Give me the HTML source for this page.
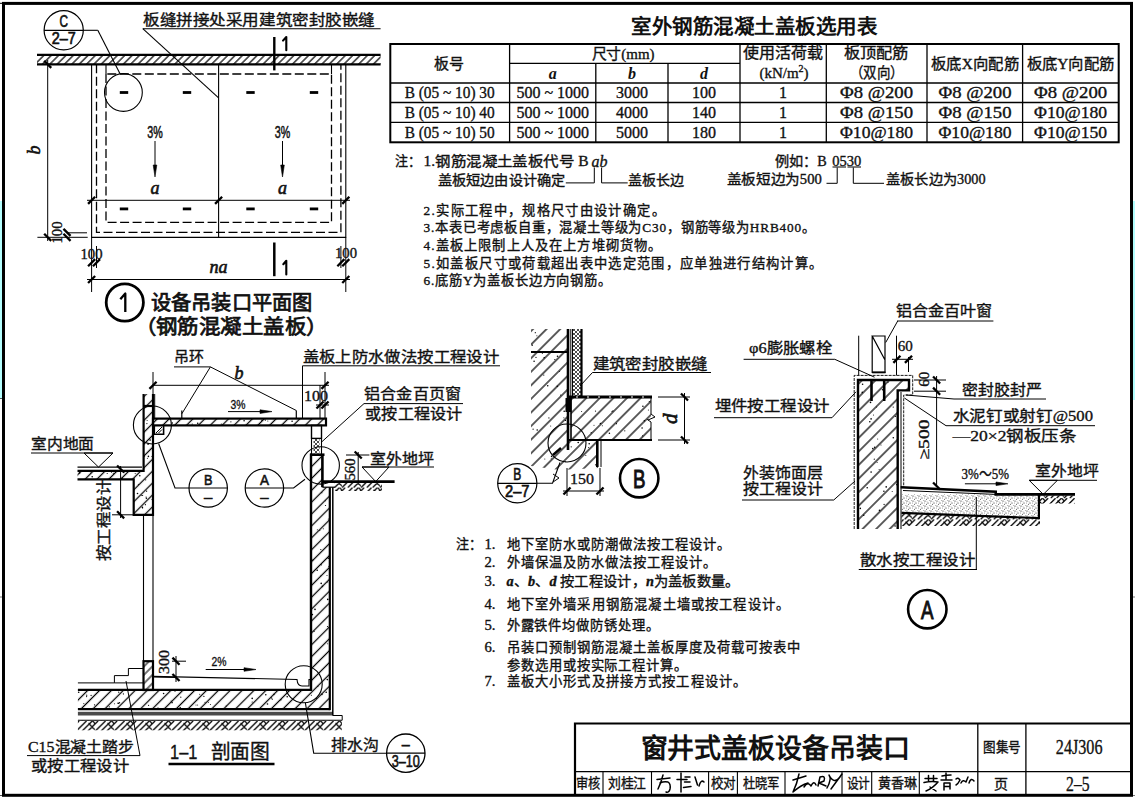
<!DOCTYPE html><html lang="zh-CN"><head><meta charset="utf-8"><title>窗井式盖板设备吊装口</title>
<style>html,body{margin:0;padding:0;background:#fff;width:1135px;height:801px;overflow:hidden}svg{display:block}</style></head><body>
<svg width="1135" height="801" viewBox="0 0 1135 801">
<defs>
<pattern id="h7" patternUnits="userSpaceOnUse" width="5.2" height="5.2" patternTransform="rotate(45)"><line x1="2.6" y1="0" x2="2.6" y2="5.2" stroke="#000" stroke-width="1.2"/></pattern>
<pattern id="h9" patternUnits="userSpaceOnUse" width="8.4" height="8.4" patternTransform="rotate(45)"><line x1="4.2" y1="0" x2="4.2" y2="8.4" stroke="#000" stroke-width="1.25"/></pattern>
<pattern id="h10" patternUnits="userSpaceOnUse" width="9.6" height="9.6" patternTransform="rotate(45)"><line x1="4.8" y1="0" x2="4.8" y2="9.6" stroke="#000" stroke-width="1.25"/></pattern>
<pattern id="h6" patternUnits="userSpaceOnUse" width="6" height="6" patternTransform="rotate(45)"><line x1="3" y1="0" x2="3" y2="6" stroke="#000" stroke-width="1.1"/></pattern>
<pattern id="soil" patternUnits="userSpaceOnUse" width="19" height="10.6"><path d="M-19 10.6 L-8.4 0 M-13.2 10.6 L-2.6 0 M-7.4 10.6 L3.2 0 M0 10.6 L10.6 0 M5.8 10.6 L16.4 0 M11.6 10.6 L22.2 0 M19 10.6 L29.6 0 M12.5 2.5 L19 9 M16.5 0 L19.5 3" stroke="#000" stroke-width="1.3" fill="none"/></pattern>
<pattern id="xh" patternUnits="userSpaceOnUse" width="4" height="4"><path d="M0 0 L4 4 M4 0 L0 4" stroke="#000" stroke-width="0.7"/></pattern>
<pattern id="dots" patternUnits="userSpaceOnUse" width="6" height="5"><circle cx="1" cy="1" r="0.6" fill="#111"/><circle cx="4" cy="3" r="0.55" fill="#111"/><circle cx="2.5" cy="4.2" r="0.5" fill="#333"/><circle cx="5.3" cy="0.6" r="0.45" fill="#333"/><circle cx="0.5" cy="3" r="0.4" fill="#333"/><circle cx="3" cy="1.8" r="0.35" fill="#333"/></pattern>
</defs>
<rect x="0" y="0" width="1135" height="801" fill="#fff"/>
<rect x="0" y="201" width="2" height="198" fill="#b3fdfd"/>
<rect x="1133" y="201" width="2" height="199" fill="#b3fdfd"/>
<line x1="0" y1="398.5" x2="2.5" y2="398.5" stroke="#333" stroke-width="0.8"/>
<line x1="0" y1="597" x2="2.5" y2="597" stroke="#555" stroke-width="0.8"/>
<line x1="1133" y1="597" x2="1135" y2="597" stroke="#555" stroke-width="0.8"/>
<rect x="3.5" y="3.4" width="1128" height="791.9" stroke="#000" stroke-width="3" fill="none"/>
<line x1="0" y1="3.4" x2="2" y2="3.4" stroke="#333" stroke-width="1.2"/>
<line x1="0" y1="795.5" x2="2" y2="795.5" stroke="#555" stroke-width="1.2"/>
<line x1="1133" y1="795.5" x2="1135" y2="795.5" stroke="#777" stroke-width="1"/>
<rect x="37" y="54.8" width="343.6" height="9.5" fill="url(#h7)"/>
<line x1="37" y1="54.8" x2="380.6" y2="54.8" stroke="#000" stroke-width="2.2"/>
<line x1="37" y1="64.3" x2="380.6" y2="64.3" stroke="#000" stroke-width="2.2"/>
<path d="M91.6 64.3 V237.4 H345.8 V64.3" stroke="#000" stroke-width="1.1" fill="none" />
<path d="M96.5 64.3 V232.3 H340.9 V64.3" stroke="#000" stroke-width="1.3" fill="none" stroke-dasharray="9 3.5"/>
<line x1="106" y1="64.3" x2="106" y2="74" stroke="#000" stroke-width="1.1"/>
<line x1="331.5" y1="64.3" x2="331.5" y2="74" stroke="#000" stroke-width="1.1"/>
<path d="M106 74 V222.4 H331.5 V74 Z" stroke="#000" stroke-width="1.3" fill="none" stroke-dasharray="9 3.5"/>
<line x1="218.6" y1="64.3" x2="218.6" y2="237.4" stroke="#000" stroke-width="1.1"/>
<rect x="119.8" y="91.1" width="8.4" height="2.8" fill="#000"/>
<rect x="182.8" y="91.1" width="8.4" height="2.8" fill="#000"/>
<rect x="246.3" y="91.1" width="8.4" height="2.8" fill="#000"/>
<rect x="309.8" y="91.1" width="8.4" height="2.8" fill="#000"/>
<rect x="119.8" y="207.5" width="8.4" height="2.8" fill="#000"/>
<rect x="182.8" y="207.5" width="8.4" height="2.8" fill="#000"/>
<rect x="246.3" y="207.5" width="8.4" height="2.8" fill="#000"/>
<rect x="309.8" y="207.5" width="8.4" height="2.8" fill="#000"/>
<text x="155" y="132.8" text-anchor="middle" dominant-baseline="central" style="font-family:'Liberation Sans',sans-serif;stroke:#111;stroke-width:0.5px;font-size:16px" fill="#111" textLength="15.5" lengthAdjust="spacingAndGlyphs" >3%</text>
<line x1="155" y1="141" x2="155" y2="170" stroke="#000" stroke-width="1"/>
<path d="M153.2 165 L155 177 L156.8 165 Z" stroke="#000" stroke-width="0.6" fill="#000" />
<text x="155" y="188" text-anchor="middle" dominant-baseline="central" style="font-family:'Liberation Serif',serif;stroke:#111;stroke-width:0.6px;font-size:18px;font-style:italic" fill="#111" >a</text>
<text x="282.5" y="132.8" text-anchor="middle" dominant-baseline="central" style="font-family:'Liberation Sans',sans-serif;stroke:#111;stroke-width:0.5px;font-size:16px" fill="#111" textLength="15.5" lengthAdjust="spacingAndGlyphs" >3%</text>
<line x1="282.5" y1="141" x2="282.5" y2="170" stroke="#000" stroke-width="1"/>
<path d="M280.7 165 L282.5 177 L284.3 165 Z" stroke="#000" stroke-width="0.6" fill="#000" />
<text x="282.5" y="188" text-anchor="middle" dominant-baseline="central" style="font-family:'Liberation Serif',serif;stroke:#111;stroke-width:0.6px;font-size:18px;font-style:italic" fill="#111" >a</text>
<line x1="87" y1="200.3" x2="350" y2="200.3" stroke="#000" stroke-width="1"/>
<line x1="88.0645" y1="203.83550000000002" x2="95.1355" y2="196.7645" stroke="#000" stroke-width="2.3"/>
<line x1="215.06449999999998" y1="203.83550000000002" x2="222.1355" y2="196.7645" stroke="#000" stroke-width="2.3"/>
<line x1="342.2645" y1="203.83550000000002" x2="349.3355" y2="196.7645" stroke="#000" stroke-width="2.3"/>
<line x1="47.7" y1="60" x2="47.7" y2="241" stroke="#000" stroke-width="1"/>
<line x1="44.164500000000004" y1="60.7645" x2="51.2355" y2="67.8355" stroke="#000" stroke-width="2.3"/>
<line x1="44.164500000000004" y1="233.7645" x2="51.2355" y2="240.83550000000002" stroke="#000" stroke-width="2.3"/>
<line x1="37.4" y1="237.3" x2="87.7" y2="237.3" stroke="#000" stroke-width="1"/>
<line x1="67" y1="232.8" x2="87" y2="232.8" stroke="#000" stroke-width="1"/>
<line x1="63.4645" y1="228.8645" x2="70.5355" y2="235.93550000000002" stroke="#000" stroke-width="2.3"/>
<line x1="63.4645" y1="233.7645" x2="70.5355" y2="240.83550000000002" stroke="#000" stroke-width="2.3"/>
<text x="34" y="150" text-anchor="middle" dominant-baseline="central" style="font-family:'Liberation Serif',serif;stroke:#111;stroke-width:0.6px;font-size:18px;font-style:italic" fill="#111" transform="rotate(-90 34 150)" >b</text>
<text x="57.2" y="232.5" text-anchor="middle" dominant-baseline="central" style="font-family:'Liberation Serif',serif;stroke:#111;stroke-width:0.35px;font-size:15px" fill="#111" textLength="22" lengthAdjust="spacingAndGlyphs" transform="rotate(-90 57.2 232.5)" >100</text>
<line x1="91.6" y1="237.4" x2="91.6" y2="292" stroke="#000" stroke-width="1"/>
<line x1="96.5" y1="246" x2="96.5" y2="268" stroke="#000" stroke-width="1"/>
<line x1="345.8" y1="237.4" x2="345.8" y2="292" stroke="#000" stroke-width="1"/>
<line x1="340.9" y1="246" x2="340.9" y2="268" stroke="#000" stroke-width="1"/>
<line x1="88.0645" y1="266.2355" x2="95.1355" y2="259.1645" stroke="#000" stroke-width="2.3"/>
<line x1="92.9645" y1="266.2355" x2="100.0355" y2="259.1645" stroke="#000" stroke-width="2.3"/>
<line x1="342.2645" y1="266.2355" x2="349.3355" y2="259.1645" stroke="#000" stroke-width="2.3"/>
<line x1="337.36449999999996" y1="266.2355" x2="344.4355" y2="259.1645" stroke="#000" stroke-width="2.3"/>
<text x="91.5" y="254" text-anchor="middle" dominant-baseline="central" style="font-family:'Liberation Serif',serif;stroke:#111;stroke-width:0.35px;font-size:14px" fill="#111" textLength="22" lengthAdjust="spacingAndGlyphs" >100</text>
<text x="346" y="253" text-anchor="middle" dominant-baseline="central" style="font-family:'Liberation Serif',serif;stroke:#111;stroke-width:0.35px;font-size:14px" fill="#111" textLength="22" lengthAdjust="spacingAndGlyphs" >100</text>
<line x1="87" y1="279.5" x2="350" y2="279.5" stroke="#000" stroke-width="1"/>
<line x1="88.0645" y1="283.0355" x2="95.1355" y2="275.9645" stroke="#000" stroke-width="2.3"/>
<line x1="342.2645" y1="283.0355" x2="349.3355" y2="275.9645" stroke="#000" stroke-width="2.3"/>
<text x="218.6" y="267.3" text-anchor="middle" dominant-baseline="central" style="font-family:'Liberation Serif',serif;stroke:#111;stroke-width:0.6px;font-size:18px;font-style:italic" fill="#111" >na</text>
<line x1="274.3" y1="37" x2="274.3" y2="70.4" stroke="#000" stroke-width="2.4"/>
<path d="M283 40.6 L286.3 37 V50.2" stroke="#000" stroke-width="2.1" fill="none" stroke-linecap="round" stroke-linejoin="round"/>
<line x1="274.3" y1="242.5" x2="274.3" y2="276.2" stroke="#000" stroke-width="2.5"/>
<path d="M283.3 264.2 L286.3 260.8 V274.5" stroke="#000" stroke-width="2.1" fill="none" stroke-linecap="round" stroke-linejoin="round"/>
<circle cx="63.7" cy="30.3" r="19.6" stroke="#000" stroke-width="1.2" fill="none"/>
<line x1="44.1" y1="30.3" x2="83.30000000000001" y2="30.3" stroke="#000" stroke-width="1.2"/>
<text x="63.7" y="21.48" text-anchor="middle" dominant-baseline="central" style="font-family:'Liberation Sans',sans-serif;stroke:#111;stroke-width:0.7px;font-size:17px" fill="#111" textLength="8.5" lengthAdjust="spacingAndGlyphs" >C</text>
<text x="63.7" y="38.924" text-anchor="middle" dominant-baseline="central" style="font-family:'Liberation Sans',sans-serif;stroke:#111;stroke-width:0.7px;font-size:17px" fill="#111" textLength="24" lengthAdjust="spacingAndGlyphs" >2–7</text>
<line x1="83.3" y1="30.3" x2="97.8" y2="30.3" stroke="#000" stroke-width="1.1"/>
<line x1="97.8" y1="30.3" x2="119.9" y2="73.6" stroke="#000" stroke-width="1.1"/>
<circle cx="123.4" cy="92.5" r="18.9" stroke="#000" stroke-width="1.1" fill="none"/>
<text x="143" y="19.5" text-anchor="start" dominant-baseline="central" style="font-family:'Liberation Serif',serif;stroke:#111;stroke-width:0.35px;font-size:15px" fill="#111" textLength="232" lengthAdjust="spacingAndGlyphs" >板缝拼接处采用建筑密封胶嵌缝</text>
<line x1="142.8" y1="28.7" x2="380.6" y2="28.7" stroke="#000" stroke-width="1.1"/>
<line x1="142.8" y1="28.7" x2="218.6" y2="97.8" stroke="#000" stroke-width="1.1"/>
<circle cx="124.8" cy="302.5" r="18.6" stroke="#000" stroke-width="2.8" fill="none"/>
<path d="M120.3 299.3 L125.3 293.5 V312" stroke="#000" stroke-width="2.3" fill="none" stroke-linejoin="round"/>
<text x="150.6" y="302.6" text-anchor="start" dominant-baseline="central" style="font-family:'Liberation Sans',sans-serif;stroke:#111;stroke-width:0.75px;font-size:20px" fill="#111" textLength="162" lengthAdjust="spacingAndGlyphs" >设备吊装口平面图</text>
<text x="134.5" y="327.2" text-anchor="start" dominant-baseline="central" style="font-family:'Liberation Sans',sans-serif;stroke:#111;stroke-width:0.75px;font-size:20px" fill="#111" textLength="193" lengthAdjust="spacingAndGlyphs" >（钢筋混凝土盖板）</text>
<text x="631.2" y="26.5" text-anchor="start" dominant-baseline="central" style="font-family:'Liberation Sans',sans-serif;font-size:20px;font-weight:bold" fill="#111" textLength="246" lengthAdjust="spacingAndGlyphs" >室外钢筋混凝土盖板选用表</text>
<rect x="390.3" y="44" width="728.4" height="98.3" stroke="#000" stroke-width="2" fill="none"/>
<line x1="509.6" y1="44" x2="509.6" y2="142.2" stroke="#000" stroke-width="1.3"/>
<line x1="595.8" y1="63.4" x2="595.8" y2="142.2" stroke="#000" stroke-width="1.3"/>
<line x1="668" y1="63.4" x2="668" y2="142.2" stroke="#000" stroke-width="1.3"/>
<line x1="740" y1="44" x2="740" y2="142.2" stroke="#000" stroke-width="1.3"/>
<line x1="826.3" y1="44" x2="826.3" y2="142.2" stroke="#000" stroke-width="1.3"/>
<line x1="927" y1="44" x2="927" y2="142.2" stroke="#000" stroke-width="1.3"/>
<line x1="1022.6" y1="44" x2="1022.6" y2="142.2" stroke="#000" stroke-width="1.3"/>
<line x1="509.6" y1="63.4" x2="740" y2="63.4" stroke="#000" stroke-width="1.2"/>
<line x1="390.3" y1="83" x2="1118.7" y2="83" stroke="#000" stroke-width="1.3"/>
<line x1="390.3" y1="102.5" x2="1118.7" y2="102.5" stroke="#000" stroke-width="1.3"/>
<line x1="390.3" y1="122.4" x2="1118.7" y2="122.4" stroke="#000" stroke-width="1.3"/>
<text x="448.7" y="64" text-anchor="middle" dominant-baseline="central" style="font-family:'Liberation Serif',serif;stroke:#111;stroke-width:0.35px;font-size:15px" fill="#111" textLength="30" lengthAdjust="spacingAndGlyphs" >板号</text>
<text x="623" y="53.5" text-anchor="middle" dominant-baseline="central" style="font-family:'Liberation Serif',serif;stroke:#111;stroke-width:0.35px;font-size:15px" fill="#111" textLength="63" lengthAdjust="spacingAndGlyphs" >尺寸(mm)</text>
<text x="552.7" y="73.5" text-anchor="middle" dominant-baseline="central" style="font-family:'Liberation Serif',serif;font-size:16px;font-weight:bold;font-style:italic" fill="#111" >a</text>
<text x="632" y="73.5" text-anchor="middle" dominant-baseline="central" style="font-family:'Liberation Serif',serif;font-size:16px;font-weight:bold;font-style:italic" fill="#111" >b</text>
<text x="704" y="73.5" text-anchor="middle" dominant-baseline="central" style="font-family:'Liberation Serif',serif;font-size:16px;font-weight:bold;font-style:italic" fill="#111" >d</text>
<text x="783" y="52.5" text-anchor="middle" dominant-baseline="central" style="font-family:'Liberation Serif',serif;stroke:#111;stroke-width:0.35px;font-size:15px" fill="#111" textLength="80" lengthAdjust="spacingAndGlyphs" >使用活荷载</text>
<text x="784" y="72.5" text-anchor="middle" dominant-baseline="central" style="font-family:'Liberation Serif',serif;stroke:#111;stroke-width:0.35px;font-size:15px" fill="#111" >(kN/m<tspan font-size="10" dy="-5">2</tspan><tspan dy="5">)</tspan></text>
<text x="876" y="52.5" text-anchor="middle" dominant-baseline="central" style="font-family:'Liberation Serif',serif;stroke:#111;stroke-width:0.35px;font-size:15px" fill="#111" textLength="65" lengthAdjust="spacingAndGlyphs" >板顶配筋</text>
<text x="876.5" y="72.5" text-anchor="middle" dominant-baseline="central" style="font-family:'Liberation Serif',serif;stroke:#111;stroke-width:0.35px;font-size:15px" fill="#111" textLength="54" lengthAdjust="spacingAndGlyphs" >（双向）</text>
<text x="975" y="63.5" text-anchor="middle" dominant-baseline="central" style="font-family:'Liberation Serif',serif;stroke:#111;stroke-width:0.35px;font-size:15px" fill="#111" textLength="88" lengthAdjust="spacingAndGlyphs" >板底X向配筋</text>
<text x="1070.6" y="63.5" text-anchor="middle" dominant-baseline="central" style="font-family:'Liberation Serif',serif;stroke:#111;stroke-width:0.35px;font-size:15px" fill="#111" textLength="88" lengthAdjust="spacingAndGlyphs" >板底Y向配筋</text>
<text x="449.7" y="92.7" text-anchor="middle" dominant-baseline="central" style="font-family:'Liberation Serif',serif;stroke:#111;stroke-width:0.35px;font-size:16px" fill="#111" textLength="90" lengthAdjust="spacingAndGlyphs" >B (05 ~ 10) 30</text>
<text x="552.7" y="92.7" text-anchor="middle" dominant-baseline="central" style="font-family:'Liberation Serif',serif;stroke:#111;stroke-width:0.35px;font-size:16px" fill="#111" textLength="72.5" lengthAdjust="spacingAndGlyphs" >500 ~ 1000</text>
<text x="632" y="92.7" text-anchor="middle" dominant-baseline="central" style="font-family:'Liberation Serif',serif;stroke:#111;stroke-width:0.35px;font-size:16px" fill="#111" textLength="32" lengthAdjust="spacingAndGlyphs" >3000</text>
<text x="704" y="92.7" text-anchor="middle" dominant-baseline="central" style="font-family:'Liberation Serif',serif;stroke:#111;stroke-width:0.35px;font-size:16px" fill="#111" textLength="24" lengthAdjust="spacingAndGlyphs" >100</text>
<text x="783" y="92.7" text-anchor="middle" dominant-baseline="central" style="font-family:'Liberation Serif',serif;stroke:#111;stroke-width:0.35px;font-size:16px" fill="#111" >1</text>
<text x="876.5" y="92.7" text-anchor="middle" dominant-baseline="central" style="font-family:'Liberation Serif',serif;stroke:#111;stroke-width:0.35px;font-size:16px" fill="#111" textLength="73" lengthAdjust="spacingAndGlyphs" >Φ8  @200</text>
<text x="975" y="92.7" text-anchor="middle" dominant-baseline="central" style="font-family:'Liberation Serif',serif;stroke:#111;stroke-width:0.35px;font-size:16px" fill="#111" textLength="73" lengthAdjust="spacingAndGlyphs" >Φ8  @200</text>
<text x="1070.6" y="92.7" text-anchor="middle" dominant-baseline="central" style="font-family:'Liberation Serif',serif;stroke:#111;stroke-width:0.35px;font-size:16px" fill="#111" textLength="73" lengthAdjust="spacingAndGlyphs" >Φ8  @200</text>
<text x="449.7" y="112.5" text-anchor="middle" dominant-baseline="central" style="font-family:'Liberation Serif',serif;stroke:#111;stroke-width:0.35px;font-size:16px" fill="#111" textLength="90" lengthAdjust="spacingAndGlyphs" >B (05 ~ 10) 40</text>
<text x="552.7" y="112.5" text-anchor="middle" dominant-baseline="central" style="font-family:'Liberation Serif',serif;stroke:#111;stroke-width:0.35px;font-size:16px" fill="#111" textLength="72.5" lengthAdjust="spacingAndGlyphs" >500 ~ 1000</text>
<text x="632" y="112.5" text-anchor="middle" dominant-baseline="central" style="font-family:'Liberation Serif',serif;stroke:#111;stroke-width:0.35px;font-size:16px" fill="#111" textLength="32" lengthAdjust="spacingAndGlyphs" >4000</text>
<text x="704" y="112.5" text-anchor="middle" dominant-baseline="central" style="font-family:'Liberation Serif',serif;stroke:#111;stroke-width:0.35px;font-size:16px" fill="#111" textLength="24" lengthAdjust="spacingAndGlyphs" >140</text>
<text x="783" y="112.5" text-anchor="middle" dominant-baseline="central" style="font-family:'Liberation Serif',serif;stroke:#111;stroke-width:0.35px;font-size:16px" fill="#111" >1</text>
<text x="876.5" y="112.5" text-anchor="middle" dominant-baseline="central" style="font-family:'Liberation Serif',serif;stroke:#111;stroke-width:0.35px;font-size:16px" fill="#111" textLength="73" lengthAdjust="spacingAndGlyphs" >Φ8  @150</text>
<text x="975" y="112.5" text-anchor="middle" dominant-baseline="central" style="font-family:'Liberation Serif',serif;stroke:#111;stroke-width:0.35px;font-size:16px" fill="#111" textLength="73" lengthAdjust="spacingAndGlyphs" >Φ8  @150</text>
<text x="1070.6" y="112.5" text-anchor="middle" dominant-baseline="central" style="font-family:'Liberation Serif',serif;stroke:#111;stroke-width:0.35px;font-size:16px" fill="#111" textLength="73" lengthAdjust="spacingAndGlyphs" >Φ10@180</text>
<text x="449.7" y="132.3" text-anchor="middle" dominant-baseline="central" style="font-family:'Liberation Serif',serif;stroke:#111;stroke-width:0.35px;font-size:16px" fill="#111" textLength="90" lengthAdjust="spacingAndGlyphs" >B (05 ~ 10) 50</text>
<text x="552.7" y="132.3" text-anchor="middle" dominant-baseline="central" style="font-family:'Liberation Serif',serif;stroke:#111;stroke-width:0.35px;font-size:16px" fill="#111" textLength="72.5" lengthAdjust="spacingAndGlyphs" >500 ~ 1000</text>
<text x="632" y="132.3" text-anchor="middle" dominant-baseline="central" style="font-family:'Liberation Serif',serif;stroke:#111;stroke-width:0.35px;font-size:16px" fill="#111" textLength="32" lengthAdjust="spacingAndGlyphs" >5000</text>
<text x="704" y="132.3" text-anchor="middle" dominant-baseline="central" style="font-family:'Liberation Serif',serif;stroke:#111;stroke-width:0.35px;font-size:16px" fill="#111" textLength="24" lengthAdjust="spacingAndGlyphs" >180</text>
<text x="783" y="132.3" text-anchor="middle" dominant-baseline="central" style="font-family:'Liberation Serif',serif;stroke:#111;stroke-width:0.35px;font-size:16px" fill="#111" >1</text>
<text x="876.5" y="132.3" text-anchor="middle" dominant-baseline="central" style="font-family:'Liberation Serif',serif;stroke:#111;stroke-width:0.35px;font-size:16px" fill="#111" textLength="73" lengthAdjust="spacingAndGlyphs" >Φ10@180</text>
<text x="975" y="132.3" text-anchor="middle" dominant-baseline="central" style="font-family:'Liberation Serif',serif;stroke:#111;stroke-width:0.35px;font-size:16px" fill="#111" textLength="73" lengthAdjust="spacingAndGlyphs" >Φ10@180</text>
<text x="1070.6" y="132.3" text-anchor="middle" dominant-baseline="central" style="font-family:'Liberation Serif',serif;stroke:#111;stroke-width:0.35px;font-size:16px" fill="#111" textLength="73" lengthAdjust="spacingAndGlyphs" >Φ10@150</text>
<text x="395" y="161.8" text-anchor="start" dominant-baseline="central" style="font-family:'Liberation Serif',serif;stroke:#111;stroke-width:0.35px;font-size:14px" fill="#111" textLength="26" lengthAdjust="spacingAndGlyphs" >注：</text>
<text x="423.5" y="161.8" text-anchor="start" dominant-baseline="central" style="font-family:'Liberation Serif',serif;stroke:#111;stroke-width:0.35px;font-size:14px" fill="#111" textLength="165" lengthAdjust="spacingAndGlyphs" >1.钢筋混凝土盖板代号 B</text>
<text x="591.6" y="161.8" text-anchor="start" dominant-baseline="central" style="font-family:'Liberation Serif',serif;stroke:#111;stroke-width:0.35px;font-size:17px;font-style:italic" fill="#111" textLength="16" lengthAdjust="spacingAndGlyphs" >ab</text>
<text x="437.6" y="180.8" text-anchor="start" dominant-baseline="central" style="font-family:'Liberation Serif',serif;stroke:#111;stroke-width:0.35px;font-size:14px" fill="#111" textLength="128" lengthAdjust="spacingAndGlyphs" >盖板短边由设计确定</text>
<path d="M565.8 182.9 H594.3 V167.5" stroke="#000" stroke-width="1" fill="none" />
<path d="M601.6 167.5 V182.9 H627.7" stroke="#000" stroke-width="1" fill="none" />
<text x="628.4" y="180.8" text-anchor="start" dominant-baseline="central" style="font-family:'Liberation Serif',serif;stroke:#111;stroke-width:0.35px;font-size:14px" fill="#111" textLength="56" lengthAdjust="spacingAndGlyphs" >盖板长边</text>
<text x="774.7" y="161" text-anchor="start" dominant-baseline="central" style="font-family:'Liberation Serif',serif;stroke:#111;stroke-width:0.35px;font-size:14px" fill="#111" textLength="52" lengthAdjust="spacingAndGlyphs" >例如：B</text>
<text x="832.2" y="161" text-anchor="start" dominant-baseline="central" style="font-family:'Liberation Serif',serif;stroke:#111;stroke-width:0.35px;font-size:14px" fill="#111" textLength="29" lengthAdjust="spacingAndGlyphs" >0530</text>
<line x1="832.5" y1="167" x2="846" y2="167" stroke="#000" stroke-width="1"/>
<line x1="847.5" y1="167" x2="861" y2="167" stroke="#000" stroke-width="1"/>
<text x="726.8" y="179.5" text-anchor="start" dominant-baseline="central" style="font-family:'Liberation Serif',serif;stroke:#111;stroke-width:0.35px;font-size:14px" fill="#111" textLength="95" lengthAdjust="spacingAndGlyphs" >盖板短边为500</text>
<path d="M826.5 183.3 H837.2 V167.5" stroke="#000" stroke-width="1" fill="none" />
<path d="M853.3 167.5 V183.3 H884" stroke="#000" stroke-width="1" fill="none" />
<text x="885.9" y="179.5" text-anchor="start" dominant-baseline="central" style="font-family:'Liberation Serif',serif;stroke:#111;stroke-width:0.35px;font-size:14px" fill="#111" textLength="99.6" lengthAdjust="spacingAndGlyphs" >盖板长边为3000</text>
<text x="423.5" y="210.3" text-anchor="start" dominant-baseline="central" style="font-family:'Liberation Serif',serif;stroke:#111;stroke-width:0.35px;font-size:13.3px" fill="#111" textLength="241" lengthAdjust="spacing" >2.实际工程中，规格尺寸由设计确定。</text>
<text x="423.5" y="227.7" text-anchor="start" dominant-baseline="central" style="font-family:'Liberation Serif',serif;stroke:#111;stroke-width:0.35px;font-size:13.3px" fill="#111" textLength="391.5" lengthAdjust="spacing" >3.本表已考虑板自重，混凝土等级为C30，钢筋等级为HRB400。</text>
<text x="423.5" y="245.5" text-anchor="start" dominant-baseline="central" style="font-family:'Liberation Serif',serif;stroke:#111;stroke-width:0.35px;font-size:13.3px" fill="#111" textLength="237.7" lengthAdjust="spacing" >4.盖板上限制上人及在上方堆砌货物。</text>
<text x="423.5" y="263.2" text-anchor="start" dominant-baseline="central" style="font-family:'Liberation Serif',serif;stroke:#111;stroke-width:0.35px;font-size:13.3px" fill="#111" textLength="398.4" lengthAdjust="spacing" >5.如盖板尺寸或荷载超出表中选定范围，应单独进行结构计算。</text>
<text x="423.5" y="280" text-anchor="start" dominant-baseline="central" style="font-family:'Liberation Serif',serif;stroke:#111;stroke-width:0.35px;font-size:13.3px" fill="#111" textLength="187.5" lengthAdjust="spacing" >6.底筋Y为盖板长边方向钢筋。</text>
<path d="M143.6 394 H153 V514.8 H133.7 V479.3 H77.5 V470.8 H143.6 Z" fill="url(#h9)"/>
<circle cx="142.6" cy="495.5" r="0.6" fill="#000"/>
<circle cx="142.6" cy="507.9" r="0.5" fill="#000"/>
<circle cx="137.5" cy="493.5" r="0.8" fill="#000"/>
<circle cx="145.7" cy="479.8" r="0.6" fill="#000"/>
<circle cx="139.8" cy="475.8" r="0.8" fill="#000"/>
<circle cx="146.1" cy="497.0" r="0.6" fill="#000"/>
<circle cx="152.3" cy="499.5" r="0.8" fill="#000"/>
<circle cx="146.4" cy="498.2" r="0.8" fill="#000"/>
<circle cx="135.2" cy="473.5" r="0.5" fill="#000"/>
<circle cx="145.4" cy="504.7" r="0.6" fill="#000"/>
<circle cx="142.4" cy="507.4" r="0.8" fill="#000"/>
<circle cx="138.4" cy="484.4" r="0.5" fill="#000"/>
<circle cx="146.6" cy="491.2" r="0.6" fill="#000"/>
<circle cx="141.7" cy="495.2" r="0.5" fill="#000"/>
<circle cx="148.1" cy="444.3" r="0.8" fill="#000"/>
<circle cx="146.9" cy="423.6" r="0.6" fill="#000"/>
<circle cx="148.1" cy="443.3" r="0.6" fill="#000"/>
<circle cx="150.1" cy="440.1" r="0.8" fill="#000"/>
<circle cx="143.6" cy="441.8" r="0.6" fill="#000"/>
<circle cx="147.1" cy="420.5" r="0.5" fill="#000"/>
<circle cx="144.2" cy="456.4" r="0.5" fill="#000"/>
<circle cx="148.4" cy="456.4" r="0.8" fill="#000"/>
<circle cx="147.4" cy="458.2" r="0.5" fill="#000"/>
<circle cx="152.2" cy="456.5" r="0.8" fill="#000"/>
<circle cx="92.2" cy="476.8" r="0.8" fill="#000"/>
<circle cx="122.1" cy="478.2" r="0.8" fill="#000"/>
<circle cx="90.7" cy="473.0" r="0.5" fill="#000"/>
<circle cx="113.3" cy="473.3" r="0.5" fill="#000"/>
<circle cx="107.2" cy="473.5" r="0.6" fill="#000"/>
<circle cx="79.6" cy="472.9" r="0.8" fill="#000"/>
<circle cx="111.5" cy="472.1" r="0.6" fill="#000"/>
<circle cx="123.9" cy="472.6" r="0.6" fill="#000"/>
<path d="M143.6 394 V470.8 H77.5" stroke="#000" stroke-width="2.2" fill="none" />
<path d="M77.5 479.3 H133.7 V514.8 H153 V394" stroke="#000" stroke-width="2.2" fill="none" />
<line x1="77.5" y1="467.1" x2="142" y2="467.1" stroke="#000" stroke-width="1.1"/>
<line x1="143.6" y1="406" x2="153" y2="406" stroke="#000" stroke-width="2.2"/>
<line x1="154.7" y1="394" x2="154.7" y2="418.6" stroke="#000" stroke-width="1"/>
<rect x="153" y="418.6" width="173" height="6.8" fill="url(#h9)"/>
<rect x="153" y="418.6" width="173" height="6.8" stroke="#000" stroke-width="2.2" fill="none"/>
<circle cx="172.3" cy="423.0" r="0.8" fill="#000"/>
<circle cx="244.1" cy="420.7" r="0.8" fill="#000"/>
<circle cx="197.7" cy="423.2" r="0.8" fill="#000"/>
<circle cx="230.9" cy="421.8" r="0.6" fill="#000"/>
<circle cx="221.3" cy="424.0" r="0.6" fill="#000"/>
<circle cx="192.2" cy="424.0" r="0.6" fill="#000"/>
<circle cx="292.1" cy="421.3" r="0.8" fill="#000"/>
<circle cx="262.0" cy="420.2" r="0.8" fill="#000"/>
<circle cx="267.8" cy="420.9" r="0.5" fill="#000"/>
<circle cx="265.4" cy="420.1" r="0.6" fill="#000"/>
<path d="M154.3 425.4 V434.3 H163.6 V425.4" stroke="#000" stroke-width="1.6" fill="none" />
<path d="M156 433 L162 427 M158.5 433 L162 429.5" stroke="#000" stroke-width="1" fill="none" />
<line x1="181.8" y1="410.5" x2="181.8" y2="418.6" stroke="#000" stroke-width="1.2"/>
<line x1="296.3" y1="410.5" x2="296.3" y2="418.6" stroke="#000" stroke-width="1.2"/>
<text x="174" y="357" text-anchor="start" dominant-baseline="central" style="font-family:'Liberation Serif',serif;stroke:#111;stroke-width:0.35px;font-size:15px" fill="#111" textLength="30" lengthAdjust="spacingAndGlyphs" >吊环</text>
<line x1="174" y1="366.9" x2="210.4" y2="366.9" stroke="#000" stroke-width="1"/>
<line x1="210.4" y1="366.9" x2="181.8" y2="413.8" stroke="#000" stroke-width="1"/>
<line x1="210.4" y1="366.9" x2="296.3" y2="410.5" stroke="#000" stroke-width="1"/>
<line x1="153" y1="372" x2="153" y2="394" stroke="#000" stroke-width="1"/>
<line x1="325" y1="372" x2="325" y2="418.6" stroke="#000" stroke-width="1"/>
<line x1="320" y1="385" x2="320" y2="418.6" stroke="#000" stroke-width="1"/>
<line x1="153" y1="385.3" x2="329" y2="385.3" stroke="#000" stroke-width="1"/>
<line x1="149.4645" y1="388.8355" x2="156.5355" y2="381.7645" stroke="#000" stroke-width="2.3"/>
<line x1="321.4645" y1="388.8355" x2="328.5355" y2="381.7645" stroke="#000" stroke-width="2.3"/>
<text x="239" y="373" text-anchor="middle" dominant-baseline="central" style="font-family:'Liberation Serif',serif;stroke:#111;stroke-width:0.6px;font-size:18px;font-style:italic" fill="#111" >b</text>
<text x="316" y="396" text-anchor="middle" dominant-baseline="central" style="font-family:'Liberation Serif',serif;stroke:#111;stroke-width:0.35px;font-size:14px" fill="#111" textLength="24" lengthAdjust="spacingAndGlyphs" >100</text>
<line x1="316.4645" y1="408.5355" x2="323.5355" y2="401.4645" stroke="#000" stroke-width="2.3"/>
<line x1="321.4645" y1="408.5355" x2="328.5355" y2="401.4645" stroke="#000" stroke-width="2.3"/>
<line x1="316" y1="405" x2="329" y2="405" stroke="#000" stroke-width="1"/>
<text x="238" y="404" text-anchor="middle" dominant-baseline="central" style="font-family:'Liberation Sans',sans-serif;stroke:#111;stroke-width:0.35px;font-size:13px" fill="#111" textLength="15" lengthAdjust="spacingAndGlyphs" >3%</text>
<line x1="228" y1="411.6" x2="262" y2="411.6" stroke="#000" stroke-width="1"/>
<path d="M260 409.8 L272 411.6 L260 413.4 Z" stroke="#000" stroke-width="0.6" fill="#000" />
<text x="302.5" y="357" text-anchor="start" dominant-baseline="central" style="font-family:'Liberation Serif',serif;stroke:#111;stroke-width:0.35px;font-size:15px" fill="#111" textLength="196.5" lengthAdjust="spacingAndGlyphs" >盖板上防水做法按工程设计</text>
<line x1="302.5" y1="365.8" x2="500" y2="365.8" stroke="#000" stroke-width="1"/>
<line x1="302.5" y1="365.8" x2="302.5" y2="418.6" stroke="#000" stroke-width="1"/>
<circle cx="152.4" cy="425" r="19" stroke="#000" stroke-width="1.1" fill="none"/>
<path d="M158.6 443.5 L175 488 H189" stroke="#000" stroke-width="1.1" fill="none" />
<circle cx="208.2" cy="488" r="19.2" stroke="#000" stroke-width="1.2" fill="none"/>
<line x1="189.0" y1="488" x2="227.39999999999998" y2="488" stroke="#000" stroke-width="1.2"/>
<text x="208.2" y="479.36" text-anchor="middle" dominant-baseline="central" style="font-family:'Liberation Sans',sans-serif;stroke:#111;stroke-width:0.6px;font-size:15px" fill="#111" textLength="8.5" lengthAdjust="spacingAndGlyphs" >B</text>
<text x="208.2" y="496.448" text-anchor="middle" dominant-baseline="central" style="font-family:'Liberation Sans',sans-serif;stroke:#111;stroke-width:0.6px;font-size:15px" fill="#111" >–</text>
<circle cx="264.4" cy="488" r="19.2" stroke="#000" stroke-width="1.2" fill="none"/>
<line x1="245.2" y1="488" x2="283.59999999999997" y2="488" stroke="#000" stroke-width="1.2"/>
<text x="264.4" y="479.36" text-anchor="middle" dominant-baseline="central" style="font-family:'Liberation Sans',sans-serif;stroke:#111;stroke-width:0.6px;font-size:15px" fill="#111" textLength="9" lengthAdjust="spacingAndGlyphs" >A</text>
<text x="264.4" y="496.448" text-anchor="middle" dominant-baseline="central" style="font-family:'Liberation Sans',sans-serif;stroke:#111;stroke-width:0.6px;font-size:15px" fill="#111" >–</text>
<path d="M283.6 488 H293.6 L305 479.2" stroke="#000" stroke-width="1.1" fill="none" />
<text x="31" y="444" text-anchor="start" dominant-baseline="central" style="font-family:'Liberation Serif',serif;stroke:#111;stroke-width:0.35px;font-size:15px" fill="#111" textLength="63" lengthAdjust="spacingAndGlyphs" >室内地面</text>
<line x1="31" y1="453" x2="113" y2="453" stroke="#000" stroke-width="1"/>
<path d="M84 453 H113 L98.5 467.1 Z" stroke="#000" stroke-width="1" fill="none" />
<line x1="120.6" y1="466" x2="120.6" y2="518" stroke="#000" stroke-width="1"/>
<line x1="112" y1="514.8" x2="133.7" y2="514.8" stroke="#000" stroke-width="1"/>
<line x1="117.0645" y1="465.4645" x2="124.1355" y2="472.5355" stroke="#000" stroke-width="2.3"/>
<line x1="117.0645" y1="511.26449999999994" x2="124.1355" y2="518.3354999999999" stroke="#000" stroke-width="2.3"/>
<text x="104" y="520" text-anchor="middle" dominant-baseline="central" style="font-family:'Liberation Serif',serif;stroke:#111;stroke-width:0.35px;font-size:15px" fill="#111" textLength="82" lengthAdjust="spacingAndGlyphs" transform="rotate(-90 104 520)" >按工程设计</text>
<line x1="143.5" y1="514.8" x2="143.5" y2="661.2" stroke="#000" stroke-width="1.1"/>
<line x1="153" y1="514.8" x2="153" y2="661.2" stroke="#000" stroke-width="1.1"/>
<rect x="143.5" y="661.2" width="9.5" height="28.8" fill="url(#h6)"/>
<rect x="143.5" y="661.2" width="9.5" height="28.8" stroke="#000" stroke-width="2.2" fill="none"/>
<path d="M77.9 682.9 H114.4 V675.6 H128.4 V668.5 H143.5" stroke="#000" stroke-width="1" fill="none" />
<line x1="114.4" y1="682.9" x2="143.5" y2="682.9" stroke="#000" stroke-width="1"/>
<path d="M77.9 689.9 H311 V455 H322.4 V487.2 H329.7 V709.6 H77.9 Z" fill="url(#h9)"/>
<circle cx="119.4" cy="702.7" r="0.8" fill="#000"/>
<circle cx="148.6" cy="705.3" r="0.6" fill="#000"/>
<circle cx="280.8" cy="699.7" r="0.8" fill="#000"/>
<circle cx="210.4" cy="704.4" r="0.5" fill="#000"/>
<circle cx="171.1" cy="701.0" r="0.5" fill="#000"/>
<circle cx="114.4" cy="703.8" r="0.5" fill="#000"/>
<circle cx="252.2" cy="698.4" r="0.8" fill="#000"/>
<circle cx="271.4" cy="697.9" r="0.6" fill="#000"/>
<circle cx="86.6" cy="696.6" r="0.6" fill="#000"/>
<circle cx="252.2" cy="702.0" r="0.6" fill="#000"/>
<circle cx="83.8" cy="703.6" r="0.5" fill="#000"/>
<circle cx="109.3" cy="706.8" r="0.6" fill="#000"/>
<circle cx="118.4" cy="703.4" r="0.6" fill="#000"/>
<circle cx="199.7" cy="694.2" r="0.5" fill="#000"/>
<circle cx="196.0" cy="704.9" r="0.5" fill="#000"/>
<circle cx="273.8" cy="694.5" r="0.8" fill="#000"/>
<circle cx="267.5" cy="704.0" r="0.8" fill="#000"/>
<circle cx="326.2" cy="692.2" r="0.8" fill="#000"/>
<circle cx="197.6" cy="705.1" r="0.5" fill="#000"/>
<circle cx="163.6" cy="693.5" r="0.8" fill="#000"/>
<circle cx="180.8" cy="697.2" r="0.6" fill="#000"/>
<circle cx="203.9" cy="696.4" r="0.6" fill="#000"/>
<circle cx="175.0" cy="691.5" r="0.5" fill="#000"/>
<circle cx="117.9" cy="703.2" r="0.6" fill="#000"/>
<circle cx="78.7" cy="692.2" r="0.8" fill="#000"/>
<circle cx="265.8" cy="694.8" r="0.8" fill="#000"/>
<circle cx="158.0" cy="707.7" r="0.5" fill="#000"/>
<circle cx="123.4" cy="693.9" r="0.6" fill="#000"/>
<circle cx="287.2" cy="696.7" r="0.8" fill="#000"/>
<circle cx="311.4" cy="695.2" r="0.5" fill="#000"/>
<circle cx="94.5" cy="704.8" r="0.6" fill="#000"/>
<circle cx="172.1" cy="702.6" r="0.8" fill="#000"/>
<circle cx="208.4" cy="702.2" r="0.5" fill="#000"/>
<circle cx="180.2" cy="707.8" r="0.8" fill="#000"/>
<circle cx="226.2" cy="706.0" r="0.6" fill="#000"/>
<circle cx="205.0" cy="702.3" r="0.5" fill="#000"/>
<circle cx="118.7" cy="692.2" r="0.6" fill="#000"/>
<circle cx="272.3" cy="699.2" r="0.6" fill="#000"/>
<circle cx="91.1" cy="695.4" r="0.6" fill="#000"/>
<circle cx="86.7" cy="695.2" r="0.6" fill="#000"/>
<circle cx="328.3" cy="518.9" r="0.5" fill="#000"/>
<circle cx="322.4" cy="586.4" r="0.8" fill="#000"/>
<circle cx="314.1" cy="631.3" r="0.6" fill="#000"/>
<circle cx="325.5" cy="505.5" r="0.6" fill="#000"/>
<circle cx="328.3" cy="558.3" r="0.8" fill="#000"/>
<circle cx="315.0" cy="609.4" r="0.8" fill="#000"/>
<circle cx="327.7" cy="643.8" r="0.5" fill="#000"/>
<circle cx="321.8" cy="492.7" r="0.6" fill="#000"/>
<circle cx="317.3" cy="529.8" r="0.5" fill="#000"/>
<circle cx="321.9" cy="694.4" r="0.8" fill="#000"/>
<circle cx="313.0" cy="559.8" r="0.6" fill="#000"/>
<circle cx="316.4" cy="698.5" r="0.6" fill="#000"/>
<circle cx="327.3" cy="679.6" r="0.8" fill="#000"/>
<circle cx="320.8" cy="549.5" r="0.6" fill="#000"/>
<circle cx="323.3" cy="528.7" r="0.5" fill="#000"/>
<circle cx="317.8" cy="686.3" r="0.6" fill="#000"/>
<circle cx="327.7" cy="599.4" r="0.8" fill="#000"/>
<circle cx="327.0" cy="575.4" r="0.5" fill="#000"/>
<circle cx="317.2" cy="570.2" r="0.8" fill="#000"/>
<circle cx="312.4" cy="614.6" r="0.8" fill="#000"/>
<circle cx="321.2" cy="583.4" r="0.8" fill="#000"/>
<circle cx="327.3" cy="582.0" r="0.5" fill="#000"/>
<circle cx="328.9" cy="566.3" r="0.6" fill="#000"/>
<circle cx="325.3" cy="500.8" r="0.5" fill="#000"/>
<circle cx="320.7" cy="576.1" r="0.5" fill="#000"/>
<circle cx="319.8" cy="530.6" r="0.5" fill="#000"/>
<circle cx="321.3" cy="564.8" r="0.6" fill="#000"/>
<circle cx="327.5" cy="626.5" r="0.6" fill="#000"/>
<line x1="77.9" y1="689.9" x2="311" y2="689.9" stroke="#000" stroke-width="2.4"/>
<line x1="77.9" y1="709.1" x2="329.8" y2="709.1" stroke="#000" stroke-width="2.4"/>
<rect x="77.9" y="711.8" width="255" height="3.7" fill="#4a4a4a"/>
<line x1="77.9" y1="720.2" x2="342.2" y2="720.2" stroke="#000" stroke-width="1.1"/>
<path d="M332.8 715.5 H342.2 V720.2" stroke="#000" stroke-width="1" fill="none" />
<rect x="77.9" y="720.7" width="264" height="9.6" fill="url(#soil)"/>
<line x1="311" y1="453.6" x2="311" y2="691" stroke="#000" stroke-width="2.4"/>
<line x1="322.4" y1="454" x2="322.4" y2="487.2" stroke="#000" stroke-width="2.6"/>
<line x1="310" y1="454.7" x2="324.5" y2="454.7" stroke="#000" stroke-width="2.6"/>
<line x1="322.4" y1="487.2" x2="335" y2="487.2" stroke="#000" stroke-width="1.2"/>
<line x1="329.8" y1="487.2" x2="329.8" y2="710.2" stroke="#000" stroke-width="2.2"/>
<line x1="332.8" y1="487.2" x2="332.8" y2="715.5" stroke="#000" stroke-width="1.5"/>
<rect x="311.5" y="425.4" width="10" height="13" stroke="#000" stroke-width="1.4" fill="none"/>
<rect x="313.5" y="438.5" width="6" height="15" fill="url(#xh)"/>
<line x1="311.5" y1="438.5" x2="311.5" y2="454" stroke="#000" stroke-width="1.1"/>
<line x1="321.5" y1="438.5" x2="321.5" y2="454" stroke="#000" stroke-width="1.1"/>
<line x1="322.4" y1="481.6" x2="394.6" y2="481.6" stroke="#000" stroke-width="2.6"/>
<rect x="334" y="482.5" width="48" height="8.5" fill="url(#soil)"/>
<text x="350" y="469.5" text-anchor="middle" dominant-baseline="central" style="font-family:'Liberation Serif',serif;stroke:#111;stroke-width:0.35px;font-size:14px" fill="#111" textLength="22" lengthAdjust="spacingAndGlyphs" transform="rotate(-90 350 469.5)" >560</text>
<line x1="358.2" y1="452" x2="358.2" y2="481.6" stroke="#000" stroke-width="1"/>
<line x1="346" y1="455" x2="369.4" y2="455" stroke="#000" stroke-width="1"/>
<line x1="354.6645" y1="451.4645" x2="361.7355" y2="458.5355" stroke="#000" stroke-width="2.3"/>
<text x="370" y="458.6" text-anchor="start" dominant-baseline="central" style="font-family:'Liberation Serif',serif;stroke:#111;stroke-width:0.35px;font-size:15px" fill="#111" textLength="64" lengthAdjust="spacingAndGlyphs" >室外地坪</text>
<line x1="362" y1="467" x2="434" y2="467" stroke="#000" stroke-width="1"/>
<path d="M362 467 H389 L375.7 481.6 Z" stroke="#000" stroke-width="1" fill="none" />
<text x="364.3" y="394" text-anchor="start" dominant-baseline="central" style="font-family:'Liberation Serif',serif;stroke:#111;stroke-width:0.35px;font-size:15px" fill="#111" textLength="96.6" lengthAdjust="spacingAndGlyphs" >铝合金百页窗</text>
<text x="365.4" y="414" text-anchor="start" dominant-baseline="central" style="font-family:'Liberation Serif',serif;stroke:#111;stroke-width:0.35px;font-size:15px" fill="#111" textLength="96.6" lengthAdjust="spacingAndGlyphs" >或按工程设计</text>
<line x1="364" y1="403.6" x2="463" y2="403.6" stroke="#000" stroke-width="1"/>
<line x1="364" y1="403.6" x2="321.6" y2="442" stroke="#000" stroke-width="1"/>
<circle cx="320.7" cy="465.4" r="18.7" stroke="#000" stroke-width="1.1" fill="none"/>
<path d="M153 676.4 L297 679.5 Q297.5 686 302 686 H309 V679.5 H311" stroke="#000" stroke-width="1.1" fill="none" />
<text x="219" y="661.7" text-anchor="middle" dominant-baseline="central" style="font-family:'Liberation Sans',sans-serif;stroke:#111;stroke-width:0.35px;font-size:13px" fill="#111" textLength="15" lengthAdjust="spacingAndGlyphs" >2%</text>
<line x1="205.7" y1="669.5" x2="247" y2="669.5" stroke="#000" stroke-width="1"/>
<path d="M244 667.7 L256 669.5 L244 671.3 Z" stroke="#000" stroke-width="0.6" fill="#000" />
<text x="164" y="662" text-anchor="middle" dominant-baseline="central" style="font-family:'Liberation Serif',serif;stroke:#111;stroke-width:0.35px;font-size:14px" fill="#111" textLength="24" lengthAdjust="spacingAndGlyphs" transform="rotate(-90 164 662)" >300</text>
<line x1="176" y1="656" x2="176" y2="682" stroke="#000" stroke-width="1"/>
<line x1="172" y1="661.2" x2="186" y2="661.2" stroke="#000" stroke-width="1"/>
<line x1="172.4645" y1="657.6645000000001" x2="179.5355" y2="664.7355" stroke="#000" stroke-width="2.3"/>
<line x1="172.4645" y1="673.9645" x2="179.5355" y2="681.0355" stroke="#000" stroke-width="2.3"/>
<line x1="153" y1="677" x2="176" y2="677.5" stroke="#000" stroke-width="1"/>
<circle cx="303.7" cy="684.2" r="18.5" stroke="#000" stroke-width="1.1" fill="none"/>
<path d="M305.4 703 L313.7 753.2 H386.6" stroke="#000" stroke-width="1.1" fill="none" />
<text x="331.4" y="744.7" text-anchor="start" dominant-baseline="central" style="font-family:'Liberation Serif',serif;stroke:#111;stroke-width:0.35px;font-size:15px" fill="#111" textLength="47.5" lengthAdjust="spacingAndGlyphs" >排水沟</text>
<circle cx="405.8" cy="753.2" r="19.2" stroke="#000" stroke-width="1.3" fill="none"/>
<line x1="386.6" y1="753.2" x2="425.0" y2="753.2" stroke="#000" stroke-width="1.3"/>
<text x="405.8" y="744.5600000000001" text-anchor="middle" dominant-baseline="central" style="font-family:'Liberation Sans',sans-serif;stroke:#111;stroke-width:0.6px;font-size:16px" fill="#111" textLength="8" lengthAdjust="spacingAndGlyphs" >–</text>
<text x="405.8" y="761.648" text-anchor="middle" dominant-baseline="central" style="font-family:'Liberation Sans',sans-serif;stroke:#111;stroke-width:0.6px;font-size:16px" fill="#111" textLength="28" lengthAdjust="spacingAndGlyphs" >3–10</text>
<text x="170" y="752" text-anchor="start" dominant-baseline="central" style="font-family:'Liberation Sans',sans-serif;stroke:#111;stroke-width:0.35px;font-size:20px" fill="#111" textLength="27.4" lengthAdjust="spacingAndGlyphs" >1–1</text>
<text x="210.5" y="752" text-anchor="start" dominant-baseline="central" style="font-family:'Liberation Sans',sans-serif;stroke:#111;stroke-width:0.35px;font-size:20px" fill="#111" textLength="59.3" lengthAdjust="spacingAndGlyphs" >剖面图</text>
<line x1="168.5" y1="764" x2="274.5" y2="764" stroke="#000" stroke-width="2.6"/>
<text x="28" y="747" text-anchor="start" dominant-baseline="central" style="font-family:'Liberation Serif',serif;stroke:#111;stroke-width:0.35px;font-size:15px" fill="#111" textLength="106" lengthAdjust="spacingAndGlyphs" >C15混凝土踏步</text>
<text x="31" y="766" text-anchor="start" dominant-baseline="central" style="font-family:'Liberation Serif',serif;stroke:#111;stroke-width:0.35px;font-size:15px" fill="#111" textLength="98" lengthAdjust="spacingAndGlyphs" >或按工程设计</text>
<line x1="27" y1="755.6" x2="140" y2="755.6" stroke="#000" stroke-width="1"/>
<line x1="140" y1="755.6" x2="126" y2="681" stroke="#000" stroke-width="1"/>
<path d="M531 329 H568 V441 H598 V468 L560 470 L531 466 Z" fill="url(#h10)"/>
<circle cx="532.4" cy="345.2" r="0.6" fill="#000"/>
<circle cx="536.9" cy="335.8" r="0.5" fill="#000"/>
<circle cx="550.7" cy="426.1" r="0.5" fill="#000"/>
<circle cx="537.2" cy="430.0" r="0.8" fill="#000"/>
<circle cx="534.1" cy="361.2" r="0.8" fill="#000"/>
<circle cx="547.7" cy="385.7" r="0.8" fill="#000"/>
<circle cx="535.3" cy="332.7" r="0.6" fill="#000"/>
<circle cx="544.0" cy="357.8" r="0.6" fill="#000"/>
<circle cx="544.8" cy="458.9" r="0.5" fill="#000"/>
<circle cx="557.3" cy="386.2" r="0.8" fill="#000"/>
<circle cx="551.2" cy="458.8" r="0.5" fill="#000"/>
<circle cx="544.4" cy="357.5" r="0.6" fill="#000"/>
<circle cx="533.1" cy="429.2" r="0.6" fill="#000"/>
<circle cx="554.8" cy="359.5" r="0.6" fill="#000"/>
<circle cx="557.5" cy="356.2" r="0.8" fill="#000"/>
<circle cx="560.7" cy="395.1" r="0.6" fill="#000"/>
<circle cx="543.8" cy="375.1" r="0.6" fill="#000"/>
<circle cx="548.9" cy="417.9" r="0.6" fill="#000"/>
<circle cx="565.6" cy="461.8" r="0.5" fill="#000"/>
<circle cx="559.6" cy="371.4" r="0.5" fill="#000"/>
<circle cx="551.6" cy="456.4" r="0.8" fill="#000"/>
<circle cx="542.3" cy="353.4" r="0.5" fill="#000"/>
<circle cx="564.2" cy="411.2" r="0.8" fill="#000"/>
<circle cx="565.5" cy="420.4" r="0.6" fill="#000"/>
<circle cx="563.9" cy="417.7" r="0.5" fill="#000"/>
<circle cx="536.0" cy="357.4" r="0.6" fill="#000"/>
<circle cx="571.2" cy="446.8" r="0.6" fill="#000"/>
<circle cx="588.6" cy="447.4" r="0.5" fill="#000"/>
<circle cx="589.2" cy="443.7" r="0.8" fill="#000"/>
<circle cx="578.2" cy="442.5" r="0.8" fill="#000"/>
<circle cx="595.5" cy="464.8" r="0.6" fill="#000"/>
<circle cx="585.8" cy="455.6" r="0.5" fill="#000"/>
<line x1="531" y1="352" x2="568" y2="352" stroke="#000" stroke-width="2.2"/>
<line x1="568" y1="329" x2="568" y2="441" stroke="#000" stroke-width="2.6"/>
<line x1="570.8" y1="329" x2="570.8" y2="397" stroke="#000" stroke-width="1"/>
<rect x="572.5" y="329" width="8.6" height="67" fill="url(#xh)"/>
<line x1="572.5" y1="329" x2="572.5" y2="396" stroke="#000" stroke-width="1"/>
<line x1="581.5" y1="329" x2="581.5" y2="397" stroke="#000" stroke-width="2.2"/>
<rect x="571" y="397" width="80" height="42.5" fill="url(#h10)"/>
<circle cx="616.5" cy="423.7" r="0.6" fill="#000"/>
<circle cx="609.4" cy="433.3" r="0.8" fill="#000"/>
<circle cx="642.9" cy="406.3" r="0.8" fill="#000"/>
<circle cx="642.6" cy="435.8" r="0.6" fill="#000"/>
<circle cx="647.4" cy="419.6" r="0.6" fill="#000"/>
<circle cx="594.0" cy="425.2" r="0.5" fill="#000"/>
<circle cx="595.5" cy="411.1" r="0.6" fill="#000"/>
<circle cx="642.1" cy="428.0" r="0.8" fill="#000"/>
<circle cx="624.8" cy="430.8" r="0.6" fill="#000"/>
<circle cx="644.4" cy="420.7" r="0.8" fill="#000"/>
<circle cx="591.2" cy="432.7" r="0.6" fill="#000"/>
<circle cx="648.4" cy="410.1" r="0.5" fill="#000"/>
<circle cx="649.3" cy="401.6" r="0.6" fill="#000"/>
<circle cx="581.6" cy="411.5" r="0.5" fill="#000"/>
<circle cx="612.0" cy="411.5" r="0.6" fill="#000"/>
<circle cx="612.9" cy="410.9" r="0.6" fill="#000"/>
<circle cx="602.3" cy="425.8" r="0.5" fill="#000"/>
<circle cx="600.4" cy="423.5" r="0.8" fill="#000"/>
<line x1="568" y1="397" x2="652" y2="397" stroke="#000" stroke-width="3.2"/>
<line x1="576" y1="397" x2="652" y2="397" stroke="#fff" stroke-width="1" stroke-dasharray="2 9"/>
<line x1="568" y1="440" x2="652" y2="440" stroke="#000" stroke-width="2.2"/>
<line x1="571" y1="397" x2="571" y2="440" stroke="#000" stroke-width="1.6"/>
<rect x="565.5" y="398" width="6" height="14" fill="#000"/>
<path d="M651 397 V414 L655 417 L648 420 L651 422 V440" stroke="#000" stroke-width="1" fill="none" />
<line x1="597.3" y1="440" x2="597.3" y2="467" stroke="#000" stroke-width="2.6"/>
<line x1="601" y1="440" x2="601" y2="467" stroke="#000" stroke-width="1"/>
<line x1="568" y1="441" x2="568" y2="450" stroke="#000" stroke-width="2.6"/>
<line x1="553" y1="455" x2="561" y2="448" stroke="#000" stroke-width="2.4"/>
<circle cx="567" cy="443" r="19" stroke="#000" stroke-width="1.1" fill="none"/>
<line x1="658" y1="397" x2="690" y2="397" stroke="#000" stroke-width="1"/>
<line x1="658" y1="440" x2="690" y2="440" stroke="#000" stroke-width="1"/>
<line x1="684.5" y1="393" x2="684.5" y2="444" stroke="#000" stroke-width="1"/>
<line x1="680.9645" y1="393.4645" x2="688.0355" y2="400.5355" stroke="#000" stroke-width="2.3"/>
<line x1="680.9645" y1="436.4645" x2="688.0355" y2="443.5355" stroke="#000" stroke-width="2.3"/>
<text x="670.5" y="418.7" text-anchor="middle" dominant-baseline="central" style="font-family:'Liberation Serif',serif;stroke:#111;stroke-width:0.6px;font-size:21px;font-style:italic" fill="#111" transform="rotate(-90 670.5 418.7)" >d</text>
<line x1="567" y1="468" x2="567" y2="496" stroke="#000" stroke-width="1"/>
<line x1="600" y1="468" x2="600" y2="496" stroke="#000" stroke-width="1"/>
<line x1="563" y1="491" x2="604" y2="491" stroke="#000" stroke-width="1"/>
<line x1="563.4645" y1="494.5355" x2="570.5355" y2="487.4645" stroke="#000" stroke-width="2.3"/>
<line x1="596.4645" y1="494.5355" x2="603.5355" y2="487.4645" stroke="#000" stroke-width="2.3"/>
<text x="582" y="478.7" text-anchor="middle" dominant-baseline="central" style="font-family:'Liberation Serif',serif;stroke:#111;stroke-width:0.35px;font-size:15px" fill="#111" textLength="24" lengthAdjust="spacingAndGlyphs" >150</text>
<text x="592.5" y="363.7" text-anchor="start" dominant-baseline="central" style="font-family:'Liberation Serif',serif;stroke:#111;stroke-width:0.35px;font-size:15px" fill="#111" textLength="115" lengthAdjust="spacingAndGlyphs" >建筑密封胶嵌缝</text>
<line x1="592.5" y1="372.5" x2="711" y2="372.5" stroke="#000" stroke-width="1"/>
<line x1="592.5" y1="372.5" x2="580" y2="386" stroke="#000" stroke-width="1"/>
<circle cx="517.3" cy="483.3" r="19.6" stroke="#000" stroke-width="1.2" fill="none"/>
<line x1="497.69999999999993" y1="483.3" x2="536.9" y2="483.3" stroke="#000" stroke-width="1.2"/>
<text x="517.3" y="474.48" text-anchor="middle" dominant-baseline="central" style="font-family:'Liberation Sans',sans-serif;stroke:#111;stroke-width:0.7px;font-size:17px" fill="#111" textLength="8" lengthAdjust="spacingAndGlyphs" >B</text>
<text x="517.3" y="491.92400000000004" text-anchor="middle" dominant-baseline="central" style="font-family:'Liberation Sans',sans-serif;stroke:#111;stroke-width:0.7px;font-size:17px" fill="#111" textLength="24.5" lengthAdjust="spacingAndGlyphs" >2–7</text>
<path d="M536.9 483.3 H552.5 L560 462.5" stroke="#000" stroke-width="1.1" fill="none" />
<path d="M553 474 L559 478 L553 482" stroke="#000" stroke-width="1" fill="none" />
<circle cx="639.2" cy="478.2" r="19.2" stroke="#000" stroke-width="2.6" fill="none"/>
<text x="639.2" y="478.8" text-anchor="middle" dominant-baseline="central" style="font-family:'Liberation Sans',sans-serif;stroke:#111;stroke-width:1px;font-size:25px" fill="#111" textLength="12.5" lengthAdjust="spacingAndGlyphs" >B</text>
<path d="M858 380 H909 V390.4 H897.7 V529 H858 Z" fill="url(#h10)"/>
<circle cx="873.5" cy="414.9" r="0.5" fill="#000"/>
<circle cx="893.3" cy="437.7" r="0.8" fill="#000"/>
<circle cx="869.8" cy="421.7" r="0.8" fill="#000"/>
<circle cx="888.0" cy="382.4" r="0.5" fill="#000"/>
<circle cx="884.1" cy="504.4" r="0.6" fill="#000"/>
<circle cx="895.1" cy="526.0" r="0.8" fill="#000"/>
<circle cx="871.1" cy="418.9" r="0.8" fill="#000"/>
<circle cx="882.6" cy="389.7" r="0.8" fill="#000"/>
<circle cx="860.3" cy="508.4" r="0.8" fill="#000"/>
<circle cx="867.2" cy="487.8" r="0.8" fill="#000"/>
<circle cx="877.1" cy="462.6" r="0.5" fill="#000"/>
<circle cx="863.7" cy="515.2" r="0.8" fill="#000"/>
<circle cx="893.2" cy="407.1" r="0.6" fill="#000"/>
<circle cx="871.1" cy="472.1" r="0.8" fill="#000"/>
<circle cx="881.0" cy="444.9" r="0.5" fill="#000"/>
<circle cx="870.5" cy="402.4" r="0.8" fill="#000"/>
<circle cx="862.6" cy="384.2" r="0.8" fill="#000"/>
<circle cx="877.7" cy="439.0" r="0.5" fill="#000"/>
<circle cx="862.3" cy="392.4" r="0.8" fill="#000"/>
<circle cx="874.3" cy="459.2" r="0.6" fill="#000"/>
<circle cx="879.5" cy="510.4" r="0.8" fill="#000"/>
<circle cx="876.6" cy="406.9" r="0.5" fill="#000"/>
<circle cx="886.2" cy="486.9" r="0.8" fill="#000"/>
<circle cx="892.2" cy="491.5" r="0.5" fill="#000"/>
<circle cx="896.5" cy="484.7" r="0.6" fill="#000"/>
<circle cx="883.9" cy="491.2" r="0.8" fill="#000"/>
<circle cx="879.1" cy="469.4" r="0.5" fill="#000"/>
<circle cx="895.5" cy="416.5" r="0.6" fill="#000"/>
<circle cx="872.8" cy="448.6" r="0.8" fill="#000"/>
<circle cx="874.6" cy="447.2" r="0.8" fill="#000"/>
<path d="M858 529 V380 H909 V390.4 H897.7 V529" stroke="#000" stroke-width="2.4" fill="none" />
<path d="M854.2 529 V375.4 H912.7 V395 H903.7 V487" stroke="#000" stroke-width="0.9" fill="none" stroke-dasharray="3 1"/>
<line x1="901" y1="392" x2="901" y2="529" stroke="#000" stroke-width="1"/>
<line x1="858.7" y1="335.7" x2="858.7" y2="375.4" stroke="#000" stroke-width="1"/>
<line x1="896.5" y1="335.7" x2="896.5" y2="375.4" stroke="#000" stroke-width="1"/>
<path d="M872.2 336 V372.4 H885 V336 L872.2 336 L885 360" stroke="#000" stroke-width="1.2" fill="none" />
<line x1="872.2" y1="372.4" x2="885.5" y2="372.4" stroke="#000" stroke-width="1.8"/>
<line x1="871.5" y1="380" x2="871.5" y2="401" stroke="#000" stroke-width="2.6"/>
<line x1="884.2" y1="380" x2="884.2" y2="401" stroke="#000" stroke-width="2.6"/>
<line x1="908.5" y1="357" x2="908.5" y2="372" stroke="#000" stroke-width="1"/>
<line x1="892" y1="359.3" x2="913" y2="359.3" stroke="#000" stroke-width="1"/>
<line x1="893.3645" y1="362.8355" x2="900.4354999999999" y2="355.7645" stroke="#000" stroke-width="2.3"/>
<line x1="904.9645" y1="362.8355" x2="912.0355" y2="355.7645" stroke="#000" stroke-width="2.3"/>
<text x="905.2" y="345.5" text-anchor="middle" dominant-baseline="central" style="font-family:'Liberation Serif',serif;stroke:#111;stroke-width:0.35px;font-size:15px" fill="#111" textLength="15" lengthAdjust="spacingAndGlyphs" >60</text>
<line x1="914" y1="380" x2="946" y2="380" stroke="#000" stroke-width="1"/>
<line x1="914" y1="391.2" x2="946" y2="391.2" stroke="#000" stroke-width="1"/>
<line x1="936.6" y1="376" x2="936.6" y2="486" stroke="#000" stroke-width="1"/>
<line x1="933.0645000000001" y1="376.4645" x2="940.1355" y2="383.5355" stroke="#000" stroke-width="2.3"/>
<line x1="933.0645000000001" y1="387.6645" x2="940.1355" y2="394.7355" stroke="#000" stroke-width="2.3"/>
<line x1="933.0645000000001" y1="482.4645" x2="940.1355" y2="489.5355" stroke="#000" stroke-width="2.3"/>
<text x="923.9" y="379.2" text-anchor="middle" dominant-baseline="central" style="font-family:'Liberation Serif',serif;stroke:#111;stroke-width:0.35px;font-size:15px" fill="#111" textLength="15" lengthAdjust="spacingAndGlyphs" transform="rotate(-90 923.9 379.2)" >60</text>
<text x="924" y="439.6" text-anchor="middle" dominant-baseline="central" style="font-family:'Liberation Serif',serif;stroke:#111;stroke-width:0.35px;font-size:15px" fill="#111" textLength="40" lengthAdjust="spacingAndGlyphs" transform="rotate(-90 924 439.6)" >≥500</text>
<path d="M901.5 494.4 H1038.9 V518.1 L901.5 512.9 Z" fill="url(#dots)"/>
<path d="M901.5 512.9 L1038.9 518.1 V494.4" stroke="#000" stroke-width="2.2" fill="none" />
<path d="M900.6 487.3 L995.7 491.7 V494.4 H1075" stroke="#000" stroke-width="2.6" fill="none" />
<line x1="903" y1="490.5" x2="995.7" y2="494.4" stroke="#000" stroke-width="1"/>
<path d="M901.5 513.5 L1040 518.5 V526 H901.5 Z" fill="url(#soil)"/>
<rect x="1040" y="495.5" width="35" height="8" fill="url(#soil)"/>
<line x1="976.3" y1="497" x2="976.3" y2="569.5" stroke="#000" stroke-width="1"/>
<text x="961.4" y="474.1" text-anchor="start" dominant-baseline="central" style="font-family:'Liberation Serif',serif;stroke:#111;stroke-width:0.35px;font-size:15px" fill="#111" textLength="47.6" lengthAdjust="spacingAndGlyphs" >3%～5%</text>
<line x1="964.9" y1="483.8" x2="998" y2="483.8" stroke="#000" stroke-width="1"/>
<path d="M996 482 L1008 483.8 L996 485.6 Z" stroke="#000" stroke-width="0.6" fill="#000" />
<text x="1035" y="471.3" text-anchor="start" dominant-baseline="central" style="font-family:'Liberation Serif',serif;stroke:#111;stroke-width:0.35px;font-size:15px" fill="#111" textLength="63.4" lengthAdjust="spacingAndGlyphs" >室外地坪</text>
<line x1="1029.2" y1="480.3" x2="1097" y2="480.3" stroke="#000" stroke-width="1"/>
<path d="M1029.2 480.3 H1057.4 L1043.3 494.4 Z" stroke="#000" stroke-width="1" fill="none" />
<text x="895.6" y="310.6" text-anchor="start" dominant-baseline="central" style="font-family:'Liberation Serif',serif;stroke:#111;stroke-width:0.35px;font-size:15px" fill="#111" textLength="96.4" lengthAdjust="spacingAndGlyphs" >铝合金百叶窗</text>
<line x1="897" y1="321" x2="993.4" y2="321" stroke="#000" stroke-width="1"/>
<line x1="897.7" y1="321" x2="885.7" y2="342.5" stroke="#000" stroke-width="1"/>
<text x="749" y="348.2" text-anchor="start" dominant-baseline="central" style="font-family:'Liberation Serif',serif;stroke:#111;stroke-width:0.35px;font-size:15px" fill="#111" textLength="83" lengthAdjust="spacingAndGlyphs" >φ6膨胀螺栓</text>
<line x1="743.6" y1="359.3" x2="834.8" y2="359.3" stroke="#000" stroke-width="1"/>
<line x1="834.8" y1="359.3" x2="874.5" y2="377.2" stroke="#000" stroke-width="1"/>
<text x="714.5" y="406.3" text-anchor="start" dominant-baseline="central" style="font-family:'Liberation Serif',serif;stroke:#111;stroke-width:0.35px;font-size:15px" fill="#111" textLength="115" lengthAdjust="spacingAndGlyphs" >埋件按工程设计</text>
<line x1="714" y1="417.7" x2="832" y2="417.7" stroke="#000" stroke-width="1"/>
<line x1="832" y1="417.7" x2="856" y2="391.8" stroke="#000" stroke-width="1"/>
<text x="962.4" y="390" text-anchor="start" dominant-baseline="central" style="font-family:'Liberation Serif',serif;stroke:#111;stroke-width:0.35px;font-size:15px" fill="#111" textLength="79.6" lengthAdjust="spacingAndGlyphs" >密封胶封严</text>
<line x1="954" y1="399" x2="1046" y2="399" stroke="#000" stroke-width="1"/>
<line x1="954" y1="399" x2="906" y2="395" stroke="#000" stroke-width="1"/>
<text x="952.8" y="415.5" text-anchor="start" dominant-baseline="central" style="font-family:'Liberation Serif',serif;stroke:#111;stroke-width:0.35px;font-size:15px" fill="#111" textLength="140.2" lengthAdjust="spacingAndGlyphs" >水泥钉或射钉@500</text>
<line x1="946" y1="425.7" x2="1095" y2="425.7" stroke="#000" stroke-width="1"/>
<line x1="946" y1="425.7" x2="904.4" y2="398" stroke="#000" stroke-width="1"/>
<text x="952.8" y="435.6" text-anchor="start" dominant-baseline="central" style="font-family:'Liberation Serif',serif;stroke:#111;stroke-width:0.35px;font-size:15px" fill="#111" textLength="123.6" lengthAdjust="spacingAndGlyphs" >—20×2钢板压条</text>
<text x="742.5" y="472.5" text-anchor="start" dominant-baseline="central" style="font-family:'Liberation Serif',serif;stroke:#111;stroke-width:0.35px;font-size:15px" fill="#111" textLength="80" lengthAdjust="spacingAndGlyphs" >外装饰面层</text>
<text x="742.5" y="488.75" text-anchor="start" dominant-baseline="central" style="font-family:'Liberation Serif',serif;stroke:#111;stroke-width:0.35px;font-size:15px" fill="#111" textLength="80" lengthAdjust="spacingAndGlyphs" >按工程设计</text>
<line x1="742" y1="500" x2="833.75" y2="500" stroke="#000" stroke-width="1"/>
<line x1="833.75" y1="500" x2="855" y2="481" stroke="#000" stroke-width="1"/>
<text x="860" y="560" text-anchor="start" dominant-baseline="central" style="font-family:'Liberation Serif',serif;stroke:#111;stroke-width:0.35px;font-size:15px" fill="#111" textLength="115" lengthAdjust="spacingAndGlyphs" >散水按工程设计</text>
<line x1="858.75" y1="569.5" x2="977" y2="569.5" stroke="#000" stroke-width="1"/>
<circle cx="927.3" cy="609.2" r="19.2" stroke="#000" stroke-width="2.6" fill="none"/>
<text x="927.3" y="609.6" text-anchor="middle" dominant-baseline="central" style="font-family:'Liberation Sans',sans-serif;stroke:#111;stroke-width:1px;font-size:25px" fill="#111" textLength="12.5" lengthAdjust="spacingAndGlyphs" >A</text>
<text x="455.9" y="544.8" text-anchor="start" dominant-baseline="central" style="font-family:'Liberation Serif',serif;stroke:#111;stroke-width:0.35px;font-size:14px" fill="#111" textLength="26" lengthAdjust="spacingAndGlyphs" >注：</text>
<text x="484.4" y="544.8" text-anchor="start" dominant-baseline="central" style="font-family:'Liberation Serif',serif;stroke:#111;stroke-width:0.35px;font-size:14px" fill="#111" textLength="11" lengthAdjust="spacingAndGlyphs" >1.</text>
<text x="506.6" y="544.8" text-anchor="start" dominant-baseline="central" style="font-family:'Liberation Serif',serif;stroke:#111;stroke-width:0.35px;font-size:13.3px" fill="#111" textLength="223.4" lengthAdjust="spacing" >地下室防水或防潮做法按工程设计。</text>
<text x="484.4" y="562.2" text-anchor="start" dominant-baseline="central" style="font-family:'Liberation Serif',serif;stroke:#111;stroke-width:0.35px;font-size:14px" fill="#111" textLength="11" lengthAdjust="spacingAndGlyphs" >2.</text>
<text x="506.6" y="562.2" text-anchor="start" dominant-baseline="central" style="font-family:'Liberation Serif',serif;stroke:#111;stroke-width:0.35px;font-size:13.3px" fill="#111" textLength="209.4" lengthAdjust="spacing" >外墙保温及防水做法按工程设计。</text>
<text x="484.4" y="604" text-anchor="start" dominant-baseline="central" style="font-family:'Liberation Serif',serif;stroke:#111;stroke-width:0.35px;font-size:14px" fill="#111" textLength="11" lengthAdjust="spacingAndGlyphs" >4.</text>
<text x="506.6" y="604" text-anchor="start" dominant-baseline="central" style="font-family:'Liberation Serif',serif;stroke:#111;stroke-width:0.35px;font-size:13.3px" fill="#111" textLength="282.4" lengthAdjust="spacing" >地下室外墙采用钢筋混凝土墙或按工程设计。</text>
<text x="484.4" y="625.7" text-anchor="start" dominant-baseline="central" style="font-family:'Liberation Serif',serif;stroke:#111;stroke-width:0.35px;font-size:14px" fill="#111" textLength="11" lengthAdjust="spacingAndGlyphs" >5.</text>
<text x="506.6" y="625.7" text-anchor="start" dominant-baseline="central" style="font-family:'Liberation Serif',serif;stroke:#111;stroke-width:0.35px;font-size:13.3px" fill="#111" textLength="152.2" lengthAdjust="spacing" >外露铁件均做防锈处理。</text>
<text x="484.4" y="647.2" text-anchor="start" dominant-baseline="central" style="font-family:'Liberation Serif',serif;stroke:#111;stroke-width:0.35px;font-size:14px" fill="#111" textLength="11" lengthAdjust="spacingAndGlyphs" >6.</text>
<text x="506.6" y="647.2" text-anchor="start" dominant-baseline="central" style="font-family:'Liberation Serif',serif;stroke:#111;stroke-width:0.35px;font-size:13.3px" fill="#111" textLength="293" lengthAdjust="spacing" >吊装口预制钢筋混凝土盖板厚度及荷载可按表中</text>
<text x="506.6" y="665.3" text-anchor="start" dominant-baseline="central" style="font-family:'Liberation Serif',serif;stroke:#111;stroke-width:0.35px;font-size:13.3px" fill="#111" textLength="180.8" lengthAdjust="spacing" >参数选用或按实际工程计算。</text>
<text x="484.4" y="681.8" text-anchor="start" dominant-baseline="central" style="font-family:'Liberation Serif',serif;stroke:#111;stroke-width:0.35px;font-size:14px" fill="#111" textLength="11" lengthAdjust="spacingAndGlyphs" >7.</text>
<text x="506.6" y="681.8" text-anchor="start" dominant-baseline="central" style="font-family:'Liberation Serif',serif;stroke:#111;stroke-width:0.35px;font-size:13.3px" fill="#111" textLength="239.4" lengthAdjust="spacing" >盖板大小形式及拼接方式按工程设计。</text>
<text x="484.4" y="581.3" text-anchor="start" dominant-baseline="central" style="font-family:'Liberation Serif',serif;stroke:#111;stroke-width:0.35px;font-size:14px" fill="#111" textLength="11" lengthAdjust="spacingAndGlyphs" >3.</text>
<text x="506.6" y="581.3" text-anchor="start" dominant-baseline="central" style="font-family:'Liberation Serif',serif;stroke:#111;stroke-width:0.35px;font-size:14px" fill="#111" textLength="233" lengthAdjust="spacingAndGlyphs" ><tspan font-style="italic" font-weight="bold">a</tspan>、<tspan font-style="italic" font-weight="bold">b</tspan>、<tspan font-style="italic" font-weight="bold">d</tspan> 按工程设计，<tspan font-style="italic" font-weight="bold">n</tspan>为盖板数量。</text>
<path d="M575 794 V723.5 H1131" stroke="#000" stroke-width="2.2" fill="none" />
<line x1="575" y1="771.7" x2="1131" y2="771.7" stroke="#000" stroke-width="1.3"/>
<line x1="977.8" y1="723.5" x2="977.8" y2="794" stroke="#000" stroke-width="1.3"/>
<line x1="1025.9" y1="723.5" x2="1025.9" y2="794" stroke="#000" stroke-width="1.3"/>
<line x1="603" y1="771.7" x2="603" y2="794" stroke="#000" stroke-width="1.1"/>
<line x1="651.5" y1="771.7" x2="651.5" y2="794" stroke="#000" stroke-width="1.1"/>
<line x1="708.6" y1="771.7" x2="708.6" y2="794" stroke="#000" stroke-width="1.1"/>
<line x1="737.4" y1="771.7" x2="737.4" y2="794" stroke="#000" stroke-width="1.1"/>
<line x1="785" y1="771.7" x2="785" y2="794" stroke="#000" stroke-width="1.1"/>
<line x1="842" y1="771.7" x2="842" y2="794" stroke="#000" stroke-width="1.1"/>
<line x1="871.7" y1="771.7" x2="871.7" y2="794" stroke="#000" stroke-width="1.1"/>
<line x1="919.3" y1="771.7" x2="919.3" y2="794" stroke="#000" stroke-width="1.1"/>
<text x="640.5" y="748.5" text-anchor="start" dominant-baseline="central" style="font-family:'Liberation Sans',sans-serif;font-size:27px;font-weight:bold" fill="#111" textLength="269.7" lengthAdjust="spacingAndGlyphs" >窗井式盖板设备吊装口</text>
<text x="983" y="747.7" text-anchor="start" dominant-baseline="central" style="font-family:'Liberation Serif',serif;stroke:#111;stroke-width:0.35px;font-size:14px" fill="#111" textLength="37.7" lengthAdjust="spacingAndGlyphs" >图集号</text>
<text x="1079.2" y="747.3" text-anchor="middle" dominant-baseline="central" style="font-family:'Liberation Serif',serif;stroke:#111;stroke-width:0.35px;font-size:21px" fill="#111" textLength="46.7" lengthAdjust="spacingAndGlyphs" >24J306</text>
<text x="1001" y="784" text-anchor="middle" dominant-baseline="central" style="font-family:'Liberation Serif',serif;stroke:#111;stroke-width:0.35px;font-size:14px" fill="#111" >页</text>
<text x="1077.8" y="784" text-anchor="middle" dominant-baseline="central" style="font-family:'Liberation Serif',serif;stroke:#111;stroke-width:0.35px;font-size:21px" fill="#111" textLength="23.5" lengthAdjust="spacingAndGlyphs" >2–5</text>
<text x="576" y="783.4" text-anchor="start" dominant-baseline="central" style="font-family:'Liberation Serif',serif;stroke:#111;stroke-width:0.35px;font-size:14px" fill="#111" textLength="24.5" lengthAdjust="spacingAndGlyphs" >审核</text>
<text x="607.7" y="783.4" text-anchor="start" dominant-baseline="central" style="font-family:'Liberation Serif',serif;stroke:#111;stroke-width:0.35px;font-size:14px" fill="#111" textLength="38.5" lengthAdjust="spacingAndGlyphs" >刘桂江</text>
<text x="710.6" y="783.4" text-anchor="start" dominant-baseline="central" style="font-family:'Liberation Serif',serif;stroke:#111;stroke-width:0.35px;font-size:14px" fill="#111" textLength="25.1" lengthAdjust="spacingAndGlyphs" >校对</text>
<text x="742.7" y="783.4" text-anchor="start" dominant-baseline="central" style="font-family:'Liberation Serif',serif;stroke:#111;stroke-width:0.35px;font-size:14px" fill="#111" textLength="37" lengthAdjust="spacingAndGlyphs" >杜晓军</text>
<text x="846.5" y="783.4" text-anchor="start" dominant-baseline="central" style="font-family:'Liberation Serif',serif;stroke:#111;stroke-width:0.35px;font-size:14px" fill="#111" textLength="23.4" lengthAdjust="spacingAndGlyphs" >设计</text>
<text x="877.7" y="783.4" text-anchor="start" dominant-baseline="central" style="font-family:'Liberation Serif',serif;stroke:#111;stroke-width:0.35px;font-size:14px" fill="#111" textLength="39" lengthAdjust="spacingAndGlyphs" >黄香琳</text>
<path d="M657 779.5 L670 778 M663 775 Q661 783 658 789 M660 783 Q664 781 668 782 Q671 784 670 789 Q669 793 666 792 M681 773 V792 M677 779.5 H687 M685 777 H690 M684.5 782 H690 M683.5 787.5 L691 786.5 M695 777 L697.5 785 M699 786 Q701 779 704 782" stroke="#000" stroke-width="1.5" fill="none" stroke-linecap="round" stroke-linejoin="round"/>
<path d="M793 780 L806 776 M799 774 Q797 784 793 792 Q801 785 808 783 M804 787 Q808 781 811 786 Q814 780 816 785 M818 786 L820 777 Q826 775 824 781 L819 783 L826 786 M827 788 Q832 779 829 775 Q834 785 840 777 L841 775 M831 789 L842 774" stroke="#000" stroke-width="1.5" fill="none" stroke-linecap="round" stroke-linejoin="round"/>
<path d="M925 778.5 H937 M928.5 775.5 V781 M933.5 775.5 V781 M924 782.5 Q931 781 938 782 Q933 788 926 791 M930 787 L936 791 M942 776 Q946 775 951 775 M946 773 V779 M941 780 H952 M944 783 V790 M944 783 H950 V789 M944 786.5 H949 M956 779 Q958 777 960 780 Q958 784 956 785 M961 783 Q963 779 966 782 L968 777 M969 783 Q971 777 974 781" stroke="#000" stroke-width="1.5" fill="none" stroke-linecap="round" stroke-linejoin="round"/>
</svg></body></html>
